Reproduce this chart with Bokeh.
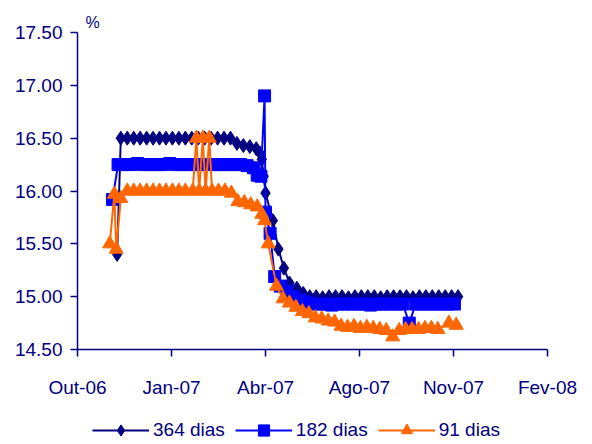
import pandas as pd
from bokeh.plotting import figure
from bokeh.layouts import column
from bokeh.models import Range1d, FixedTicker, Legend, LegendItem, PrintfTickFormatter
from bokeh.embed import file_html
from bokeh.resources import INLINE

ORIGIN = pd.Timestamp("2006-10-01")

# ---- data -------------------------------------------------------------
dates_364 = ["2006-11-13", "2006-11-17", "2006-11-24", "2006-12-01", "2006-12-08", "2006-12-15",
             "2006-12-22", "2006-12-29", "2007-01-05", "2007-01-12", "2007-01-19", "2007-01-26",
             "2007-02-02", "2007-02-09", "2007-02-16", "2007-02-23", "2007-03-02", "2007-03-09",
             "2007-03-16", "2007-03-23", "2007-03-30", "2007-04-06", "2007-04-13", "2007-04-17",
             "2007-04-19", "2007-04-21", "2007-04-23", "2007-05-01", "2007-05-07", "2007-05-13",
             "2007-05-19", "2007-05-27", "2007-06-03", "2007-06-10", "2007-06-17", "2007-06-24",
             "2007-07-01", "2007-07-08", "2007-07-15", "2007-07-22", "2007-07-29", "2007-08-05",
             "2007-08-12", "2007-08-19", "2007-08-26", "2007-09-02", "2007-09-09", "2007-09-16",
             "2007-09-23", "2007-09-30", "2007-10-07", "2007-10-14", "2007-10-21", "2007-10-28",
             "2007-11-04", "2007-11-11", "2007-11-18"]
vals_364 = [15.40, 16.50, 16.50, 16.50, 16.50, 16.50,
            16.50, 16.50, 16.50, 16.50, 16.50, 16.50,
            16.50, 16.50, 16.50, 16.50, 16.50, 16.50,
            16.50, 16.45, 16.43, 16.42, 16.40, 16.36,
            16.30, 16.14, 15.98, 15.72, 15.45, 15.27,
            15.13, 15.08, 15.03, 15.00, 15.00, 14.99,
            15.00, 15.00, 15.00, 14.99, 15.00, 15.00,
            15.00, 15.00, 14.99, 15.00, 15.00, 15.00,
            15.00, 14.99, 15.00, 15.00, 15.00, 15.00,
            15.00, 15.00, 15.00]

dates_182 = ["2006-11-08", "2006-11-14", "2006-11-21", "2006-11-28", "2006-12-05", "2006-12-12",
             "2006-12-19", "2006-12-26", "2007-01-02", "2007-01-09", "2007-01-16", "2007-01-23",
             "2007-01-30", "2007-02-06", "2007-02-13", "2007-02-20", "2007-02-27", "2007-03-06",
             "2007-03-13", "2007-03-20", "2007-03-27", "2007-04-03", "2007-04-10", "2007-04-14",
             "2007-04-18", "2007-04-22", "2007-04-23", "2007-04-28", "2007-05-03", "2007-05-09",
             "2007-05-16", "2007-05-23", "2007-05-30", "2007-06-06", "2007-06-13", "2007-06-20",
             "2007-06-27", "2007-07-04", "2007-07-11", "2007-07-18", "2007-07-25", "2007-08-01",
             "2007-08-08", "2007-08-15", "2007-08-22", "2007-08-29", "2007-09-05", "2007-09-12",
             "2007-09-19", "2007-09-26", "2007-10-03", "2007-10-10", "2007-10-17", "2007-10-24",
             "2007-10-31", "2007-11-07", "2007-11-14"]
vals_182 = [15.92, 16.25, 16.25, 16.25, 16.26, 16.25,
            16.25, 16.25, 16.25, 16.26, 16.25, 16.25,
            16.25, 16.25, 16.25, 16.25, 16.25, 16.25,
            16.25, 16.25, 16.25, 16.24, 16.22, 16.15,
            16.14, 16.90, 15.80, 15.60, 15.19, 15.10,
            15.05, 15.00, 14.97, 14.95, 14.93, 14.93,
            14.93, 14.92, 14.93, 14.93, 14.93, 14.93,
            14.93, 14.92, 14.93, 14.93, 14.93, 14.93,
            14.93, 14.75, 14.93, 14.93, 14.93, 14.93,
            14.93, 14.93, 14.93]

dates_91 = ["2006-11-05", "2006-11-10", "2006-11-12", "2006-11-17", "2006-11-24", "2006-12-01",
            "2006-12-08", "2006-12-15", "2006-12-22", "2006-12-29", "2007-01-05", "2007-01-12",
            "2007-01-19", "2007-01-26", "2007-02-03", "2007-02-07", "2007-02-10", "2007-02-14",
            "2007-02-17", "2007-02-21", "2007-02-24", "2007-03-03", "2007-03-10", "2007-03-17",
            "2007-03-24", "2007-03-31", "2007-04-07", "2007-04-14", "2007-04-19", "2007-04-22",
            "2007-04-26", "2007-05-05", "2007-05-12", "2007-05-19", "2007-05-26", "2007-06-02",
            "2007-06-09", "2007-06-16", "2007-06-23", "2007-06-30", "2007-07-07", "2007-07-14",
            "2007-07-21", "2007-07-28", "2007-08-04", "2007-08-11", "2007-08-18", "2007-08-25",
            "2007-09-01", "2007-09-08", "2007-09-15", "2007-09-22", "2007-09-29", "2007-10-06",
            "2007-10-13", "2007-10-20", "2007-10-27", "2007-11-08", "2007-11-16"]
vals_91 = [15.50, 15.97, 15.45, 15.93, 16.00, 16.00,
           16.00, 16.00, 16.00, 16.00, 16.00, 16.00,
           16.00, 16.00, 16.00, 16.50, 16.00, 16.50,
           16.00, 16.50, 16.00, 16.00, 16.00, 15.98,
           15.90, 15.89, 15.87, 15.85, 15.78, 15.72,
           15.50, 15.10, 14.98, 14.94, 14.90, 14.86,
           14.84, 14.80, 14.79, 14.77, 14.76, 14.72,
           14.71, 14.72, 14.70, 14.71, 14.70, 14.69,
           14.68, 14.62, 14.68, 14.69, 14.69, 14.69,
           14.70, 14.70, 14.69, 14.75, 14.73]

tick_dates = ["2006-10-01", "2007-01-11", "2007-04-23", "2007-08-03", "2007-11-13", "2008-02-23"]
tick_labels = ["Out-06", "Jan-07", "Abr-07", "Ago-07", "Nov-07", "Fev-08"]
y_ticks = [14.5, 15.0, 15.5, 16.0, 16.5, 17.0, 17.5]
series_names = ["364 dias", "182 dias", "91 dias"]


def to_days(ds):
    return [int((pd.Timestamp(d) - ORIGIN).days) for d in ds]


NAVY = "#000080"
BLUE = "#0000FF"
ORANGE = "#FF6600"
FONT = "Liberation Sans"

x_ticks = to_days(tick_dates)

series = [(dates_364, vals_364, NAVY, "diamond", 14),
          (dates_182, vals_182, BLUE, "square", 12),
          (dates_91, vals_91, ORANGE, "triangle", 14)]

# ---- main chart ---------------------------------------------------------
p = figure(width=592, height=414, output_backend="svg", toolbar_location=None,
           x_range=Range1d(x_ticks[0], x_ticks[-1]), y_range=Range1d(14.5, 17.5),
           min_border_left=77, min_border_right=45, min_border_top=32, min_border_bottom=65,
           title="%")
p.outline_line_color = None
p.background_fill_color = "white"
p.border_fill_color = "white"
p.xgrid.visible = False
p.ygrid.visible = False

p.title.text_font = FONT
p.title.text_font_size = "16px"
p.title.text_font_style = "normal"
p.title.text_color = NAVY
p.title.align = "left"
p.title.offset = 8
p.title.standoff = 4

for ax in (p.xaxis[0], p.yaxis[0]):
    ax.axis_line_color = NAVY
    ax.axis_line_width = 1.5
    ax.major_tick_line_color = NAVY
    ax.major_tick_line_width = 1.5
    ax.major_tick_out = 7
    ax.major_tick_in = 0
    ax.minor_tick_line_color = None
    ax.major_label_text_font = FONT
    ax.major_label_text_font_size = "19px"
    ax.major_label_text_color = NAVY

p.xaxis.ticker = FixedTicker(ticks=x_ticks)
p.xaxis.major_label_overrides = {t: lab for t, lab in zip(x_ticks, tick_labels)}
p.xaxis.major_label_standoff = 20
p.yaxis.ticker = FixedTicker(ticks=y_ticks)
p.yaxis.formatter = PrintfTickFormatter(format="%.2f")
p.yaxis.major_label_standoff = 8

for ds, vs, col, mk, sz in series:
    p.line(to_days(ds), vs, line_color=col, line_width=2)
    p.scatter(to_days(ds), vs, marker=mk, size=sz, fill_color=col, line_color=col)

# ---- legend strip (same series, outside its view range: only the legend shows) ----
lf = figure(width=592, height=30, output_backend="svg", toolbar_location=None,
            x_axis_type=None, y_axis_type=None, min_border=0,
            x_range=Range1d(0, 1), y_range=Range1d(0, 1))
lf.outline_line_color = None
lf.background_fill_color = "white"
lf.border_fill_color = "white"

items = []
for (ds, vs, col, mk, sz), name in zip(series, series_names):
    lr = lf.line(to_days(ds), vs, line_color=col, line_width=2)
    mr = lf.scatter(to_days(ds), vs, marker=mk, size=sz, fill_color=col, line_color=col)
    items.append(LegendItem(label=name, renderers=[lr, mr]))

legend = Legend(items=items, orientation="horizontal", location=(15, 0),
                glyph_width=57, glyph_height=28, label_standoff=4, spacing=10,
                padding=0, margin=0, border_line_color=None, background_fill_alpha=0,
                label_text_font=FONT, label_text_font_size="19px", label_text_color=NAVY)
lf.add_layout(legend, "center")

open("out.html", "w").write(file_html(column(p, lf, spacing=0), INLINE))
